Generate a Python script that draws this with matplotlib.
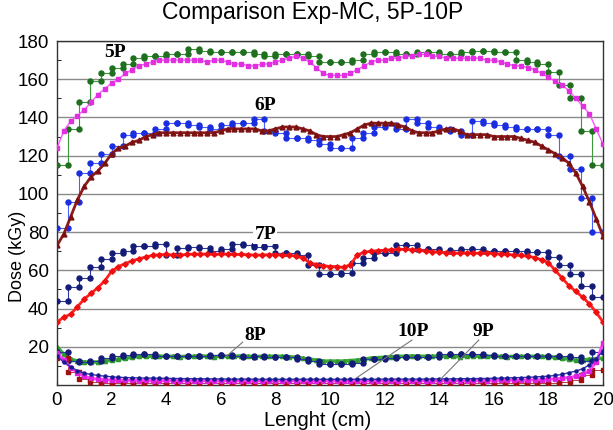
import numpy as np
import matplotlib
matplotlib.use("Agg")
import matplotlib.pyplot as plt

plt.rcParams['font.family'] = ['Liberation Sans', 'DejaVu Sans']

# Monte Carlo profiles, one value every 0.25 cm from 0 to 20 cm
mc_step = 0.25
mc_5p = [124, 133, 138, 141, 144, 148, 152, 155, 158, 160,
         163, 165, 167, 168, 169, 170, 170, 170, 170, 170,
         170, 170, 169, 170, 170, 169, 168, 168, 167, 167,
         168, 168, 169, 170, 171, 172, 171, 169, 166, 163,
         162, 162, 162, 163, 165, 167, 169, 170, 170, 171,
         171, 172, 172, 173, 173, 172, 172, 171, 171, 171,
         171, 171, 171, 170, 170, 169, 168, 167, 167, 166,
         165, 163, 161, 159, 157, 154, 150, 146, 142, 134,
         126]
mc_6p = [73, 79, 88, 97, 104, 109, 112, 116, 121, 124,
         125, 127, 128, 130, 131, 132, 132, 132, 132, 132,
         132, 132, 132, 132, 133, 134, 134, 134, 134, 134,
         133, 133, 134, 135, 135, 135, 134, 133, 131, 130,
         130, 130, 131, 132, 134, 136, 137, 137, 137, 137,
         136, 135, 133, 132, 132, 132, 133, 134, 134, 133,
         131, 131, 131, 131, 130, 130, 130, 130, 129, 128,
         127, 125, 123, 121, 119, 116, 111, 104, 96, 87,
         78]
mc_7p = [33, 35.5, 37, 41, 45, 48, 51, 54.5, 59.5, 62,
         63.5, 65, 66, 67, 67.8, 68.2, 68.3, 68, 68, 68.3,
         68.5, 68.5, 68.5, 68.3, 68.5, 68.5, 68.3, 68.3, 68.2, 68,
         68, 68.2, 68.2, 68, 67.8, 67.5, 66.5, 64, 63, 62.5,
         62, 62, 61.5, 63, 68, 69.5, 70, 70.3, 70.5, 70.8,
         71, 71, 70.8, 70.5, 70, 69.8, 69.5, 69.2, 69, 69,
         69, 69, 69, 69, 68.8, 68.5, 68.3, 68, 67.8, 67.3,
         66.7, 65.5, 64, 60, 56, 52, 49, 46, 42.5, 38,
         33]
mc_8p = [20, 16, 13.5, 12.5, 12, 12, 12, 12.5, 13, 13.5,
         14, 14.5, 15, 15, 15.2, 15, 15, 15, 14.8, 15,
         15, 15.2, 15, 14.8, 15, 15, 15, 15.2, 15, 14.8,
         15, 15, 15, 15, 14.8, 14.5, 14, 13.5, 13, 12.5,
         12.5, 12.5, 12.5, 12.8, 13, 13.5, 14, 14.3, 14.5, 14.8,
         15, 15, 15.2, 15, 15, 15, 15.2, 15, 15, 14.8,
         15, 15.2, 15, 15, 15, 15, 14.8, 15, 15, 15,
         15, 15, 14.8, 14.5, 14, 13.5, 13, 13, 13.5, 13.8,
         14]
mc_9p = [17, 13, 9, 6.5, 4.5, 3.5, 3, 2.8, 2.6, 2.5,
         2.4, 2.4, 2.3, 2.4, 2.3, 2.3, 2.4, 2.3, 2.3, 2.2,
         2.3, 2.2, 2.3, 2.2, 2.2, 2.3, 2.2, 2.2, 2.3, 2.2,
         2.2, 2.3, 2.2, 2.2, 2.2, 2.3, 2.2, 2.2, 2.2, 2.3,
         2.2, 2.2, 2.3, 2.2, 2.2, 2.2, 2.3, 2.2, 2.2, 2.3,
         2.2, 2.3, 2.2, 2.2, 2.3, 2.2, 2.3, 2.3, 2.2, 2.3,
         2.3, 2.3, 2.4, 2.3, 2.4, 2.4, 2.5, 2.5, 2.6, 2.6,
         2.7, 2.8, 3, 3.2, 3.5, 3.9, 4.5, 5.5, 7.5, 12,
         22]
mc_10p = [15, 12, 9.5, 7.5, 6.2, 5.5, 5, 4.6, 4.3, 4,
          3.9, 3.8, 3.7, 3.6, 3.6, 3.5, 3.5, 3.4, 3.4, 3.3,
          3.3, 3.3, 3.2, 3.2, 3.2, 3.1, 3.1, 3.1, 3.1, 3,
          3, 3, 3, 3, 3, 3, 3, 3, 3, 3,
          3, 3, 3, 3, 3, 3, 3, 3, 3.1, 3.1,
          3.1, 3.1, 3.1, 3.1, 3.1, 3.2, 3.2, 3.2, 3.2, 3.3,
          3.3, 3.3, 3.4, 3.4, 3.5, 3.6, 3.7, 3.8, 3.9, 4,
          4.2, 4.4, 4.6, 5, 5.5, 6.5, 7.2, 8.5, 10.5, 13.5,
          18]

# Experimental (film) profiles, one value per 0.4 cm bin
exp_step = 0.4
exp_5p = [115, 134, 148, 159, 163, 166, 168, 171, 172, 172,
          173, 173, 176, 175, 174, 174, 174, 174, 173, 172,
          173, 173, 173, 172, 169, 169, 169, 170, 173, 174,
          174, 173, 173, 174, 174, 173, 173, 174, 175, 175,
          174, 174, 170, 169, 168, 164, 157, 150, 133, 115]
exp_6p = [82, 96, 111, 116, 121, 125, 131, 132, 132, 134,
          137, 137, 136, 135, 134, 136, 137, 137, 139, 133,
          132, 129, 129, 128, 126, 124, 124, 129, 132, 135,
          136, 134, 139, 137, 135, 134, 133, 131, 138, 137,
          136, 135, 134, 134, 134, 131, 120, 113, 98, 80]
exp_7p = [44, 51.5, 56, 62, 66, 69, 70, 72.5, 72.5, 74,
          68, 71.5, 72, 71.5, 70, 71, 74, 73, 72, 72.5,
          69, 69, 68, 63, 58, 58, 58.5, 64, 66.5, 69,
          69, 73.5, 73.5, 71, 71, 70, 70.5, 71, 71, 70,
          70, 70, 70, 69.5, 69.5, 67, 63, 58, 52, 46]
exp_8p = [17.5, 12.5, 12, 12.5, 14, 15, 15.5, 16, 16, 15,
          15, 15, 15, 15, 15.8, 15.5, 15, 14.5, 15, 14.5,
          14.5, 14.5, 13.6, 12.5, 11, 11, 11, 11.5, 13.4, 13.7,
          14, 14.5, 14.5, 14.5, 14.5, 16, 16, 16, 16, 15.5,
          15, 15, 15, 15, 15, 15, 15, 14.5, 12.5, 17.5]
exp_low = [14, 7, 3, 1.5, 1.2, 1, 1, 1, 1, 1,
           1, 1, 1, 1, 1, 1, 1, 1, 1, 1,
           1, 1, 1, 1, 1, 1, 1, 1, 1, 1,
           1, 1, 1, 1, 1, 1, 1, 1, 1, 1,
           1, 1, 1, 1.2, 1.2, 1.3, 1.5, 2.5, 5, 8]


def mc_x(vals):
    return np.arange(len(vals)) * mc_step


def step_pts(vals):
    xs, ys = [], []
    for k, v in enumerate(vals):
        xs += [k * exp_step, (k + 1) * exp_step]
        ys += [v, v]
    return xs, ys


fig = plt.figure(figsize=(6.13, 4.30), dpi=100)
ax = fig.add_axes([57 / 613, 1 - 385 / 430, 546 / 613, 344 / 430])

ax.set_xlim(0, 20)
ax.set_ylim(0, 180)
ax.set_yticks(range(20, 181, 20))
ax.set_yticks(range(10, 180, 20), minor=True)
ax.set_xticks(range(0, 21, 2))
ax.yaxis.grid(True, color='#8a8a8a', lw=1.0)
ax.set_axisbelow(True)
ax.tick_params(axis='both', which='both', direction='in', labelsize=13.5)
ax.tick_params(axis='y', which='major', length=0, pad=6)
ax.tick_params(axis='y', which='minor', length=3)
ax.tick_params(axis='x', which='major', length=3, pad=5)
for s in ax.spines.values():
    s.set_color('#333333')
    s.set_linewidth(1.0)

# experimental step profiles
for vals, lc, mc in [(exp_5p, '#3a9a3a', '#1f6f1f'),
                     (exp_6p, '#4a60ff', '#1a2ee0'),
                     (exp_7p, '#2a3aa0', '#141c78'),
                     (exp_8p, '#2a3aa0', '#141c78')]:
    xs, ys = step_pts(vals)
    ax.plot(xs, ys, color=lc, lw=0.8, marker='o', ms=3.6,
            mfc=mc, mec=mc, zorder=3)

# Monte Carlo profiles
ax.plot(mc_x(mc_5p), mc_5p, color='#ff55ff', lw=1.0, marker='s', ms=3.0,
        mfc='#e030e0', mec='#e030e0', zorder=4)
ax.plot(mc_x(mc_6p), mc_6p, color='#8b1a1a', lw=2.0, marker='^', ms=3.5,
        mfc='#7a1010', mec='#7a1010', zorder=4)
ax.plot(mc_x(mc_7p), mc_7p, color='#ff2020', lw=2.0, marker='D', ms=2.8,
        mfc='#ee1010', mec='#ee1010', zorder=4)
ax.plot(mc_x(mc_8p), mc_8p, color='#3caa3c', lw=2.6, marker='^', ms=3.0,
        mfc='#2e9a2e', mec='#2e9a2e', zorder=2)

# low-dose profiles
xs, ys = step_pts(exp_low)
ax.plot(xs, ys, color='#b02020', lw=0.6, marker='s', ms=3.2,
        mfc='#a01010', mec='#a01010', zorder=3)
ax.plot(mc_x(mc_9p), mc_9p, color='#ff40ff', lw=2.0, marker='s', ms=2.6,
        mfc='#e020e0', mec='#e020e0', zorder=4)
ax.plot(mc_x(mc_10p), mc_10p, color='#3030b0', lw=1.0, marker='o', ms=2.2,
        mfc='#1a1a90', mec='#1a1a90', zorder=4)

# curve labels
lab = dict(family='Liberation Serif', fontweight='bold', fontsize=14,
           ha='center', va='center', zorder=6)
ax.text(2.13, 174, '5P', **lab)
ax.text(7.63, 146, '6P', **lab)
ax.text(7.63, 79, '7P', bbox=dict(fc='white', ec='none', pad=1), **lab)
ax.text(7.25, 26, '8P', **lab)
ax.text(13.06, 28, '10P', **lab)
ax.text(15.6, 28, '9P', **lab)
ax.plot([6.8, 6.2], [22.4, 15], color='#777777', lw=0.8, zorder=5)
ax.plot([13.0, 11.0], [23.5, 4], color='#777777', lw=0.8, zorder=5)
ax.plot([15.45, 14.05], [23.5, 3], color='#777777', lw=0.8, zorder=5)

fig.text(313 / 613, 1 - 13 / 430, 'Comparison Exp-MC, 5P-10P',
         ha='center', va='center', fontsize=16.5)
fig.text(18 / 613, 1 - 256 / 430, 'Dose (kGy)', rotation=90,
         ha='center', va='center', fontsize=13)
fig.text(318 / 613, 1 - 420 / 430, 'Lenght (cm)',
         ha='center', va='center', fontsize=14.5)

fig.savefig('out.png', dpi=100)
